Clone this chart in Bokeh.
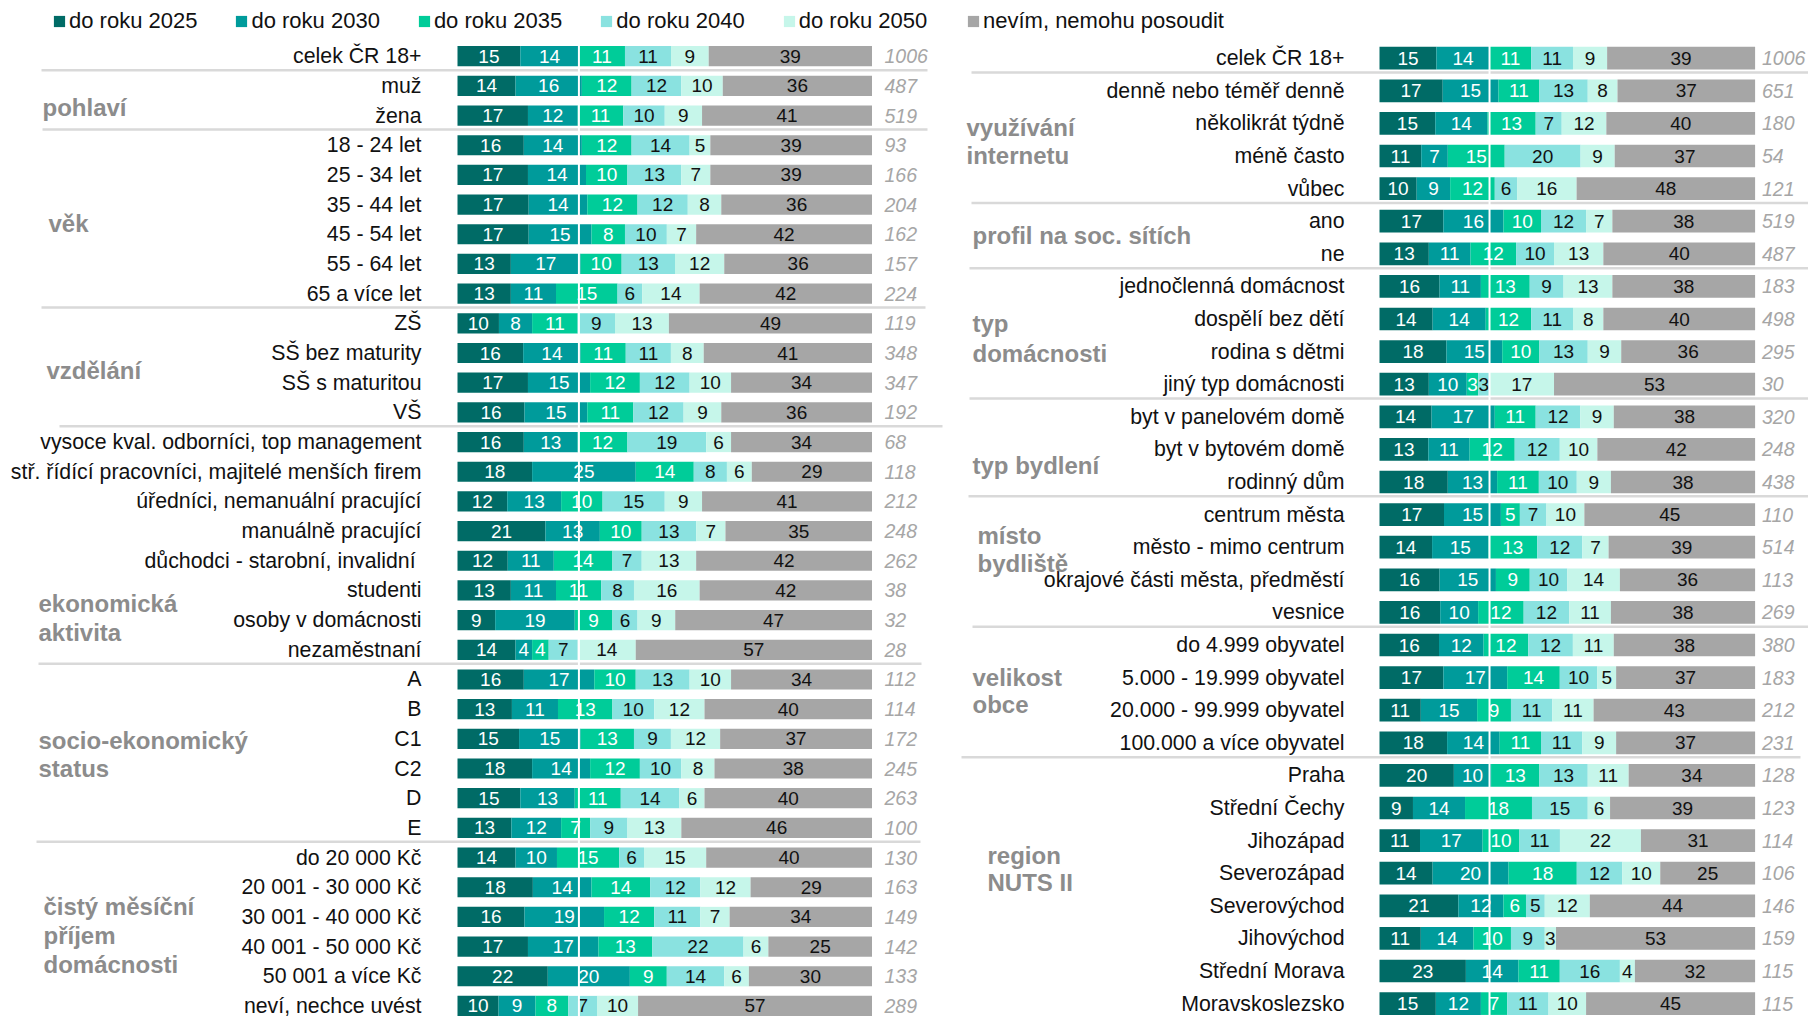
from bokeh.plotting import figure
from bokeh.models import Range1d, ColumnDataSource, Legend, LegendItem, Span
from bokeh.layouts import row
from bokeh.embed import file_html
from bokeh.resources import INLINE
from bokeh.core.properties import value

# ---------------- data ----------------
series = ["do roku 2025", "do roku 2030", "do roku 2035", "do roku 2040",
          "do roku 2050", "nevím, nemohu posoudit"]
colors = ["#006b66", "#009b9b", "#00cc99", "#8ae2e0", "#c6f6ea", "#a6a6a6"]
num_colors = ["#ffffff", "#ffffff", "#ffffff", "#111111", "#111111", "#111111"]

left_labels = ["celek ČR 18+", "muž", "žena",
               "18 - 24 let", "25 - 34 let", "35 - 44 let", "45 - 54 let", "55 - 64 let", "65 a více let",
               "ZŠ", "SŠ bez maturity", "SŠ s maturitou", "VŠ",
               "vysoce kval. odborníci, top management",
               "stř. řídící pracovníci, majitelé menších firem",
               "úředníci, nemanuální pracující", "manuálně pracující",
               "důchodci  - starobní, invalidní", "studenti", "osoby v domácnosti", "nezaměstnaní",
               "A", "B", "C1", "C2", "D", "E",
               "do 20 000 Kč", "20 001 - 30 000 Kč", "30 001 - 40 000 Kč", "40 001 - 50 000 Kč",
               "50 001 a více Kč", "neví, nechce uvést"]
left_2025 = [15, 14, 17, 16, 17, 17, 17, 13, 13, 10, 16, 17, 16, 16, 18, 12, 21, 12, 13, 9, 14,
             16, 13, 15, 18, 15, 13, 14, 18, 16, 17, 22, 10]
left_2030 = [14, 16, 12, 14, 14, 14, 15, 17, 11, 8, 14, 15, 15, 13, 25, 13, 13, 11, 11, 19, 4,
             17, 11, 15, 14, 13, 12, 10, 14, 19, 17, 20, 9]
left_2035 = [11, 12, 11, 12, 10, 12, 8, 10, 15, 11, 11, 12, 11, 12, 14, 10, 10, 14, 11, 9, 4,
             10, 13, 13, 12, 11, 7, 15, 14, 12, 13, 9, 8]
left_2040 = [11, 12, 10, 14, 13, 12, 10, 13, 6, 9, 11, 12, 12, 19, 8, 15, 13, 7, 8, 6, 7,
             13, 10, 9, 10, 14, 9, 6, 12, 11, 22, 14, 7]
left_2050 = [9, 10, 9, 5, 7, 8, 7, 12, 14, 13, 8, 10, 9, 6, 6, 9, 7, 13, 16, 9, 14,
             10, 12, 12, 8, 6, 13, 15, 12, 7, 6, 6, 10]
left_nevim = [39, 36, 41, 39, 39, 36, 42, 36, 42, 49, 41, 34, 36, 34, 29, 41, 35, 42, 42, 47, 57,
              34, 40, 37, 38, 40, 46, 40, 29, 34, 25, 30, 57]
left_n = [1006, 487, 519, 93, 166, 204, 162, 157, 224, 119, 348, 347, 192, 68, 118, 212, 248, 262,
          38, 32, 28, 112, 114, 172, 245, 263, 100, 130, 163, 149, 142, 133, 289]

right_labels = ["celek ČR 18+",
                "denně nebo téměř denně", "několikrát týdně", "méně často", "vůbec",
                "ano", "ne",
                "jednočlenná domácnost", "dospělí bez dětí", "rodina s dětmi", "jiný typ domácnosti",
                "byt v panelovém domě", "byt v bytovém domě", "rodinný dům",
                "centrum města", "město - mimo centrum", "okrajové části města, předměstí", "vesnice",
                "do 4.999 obyvatel", "5.000 - 19.999 obyvatel", "20.000 - 99.999 obyvatel",
                "100.000 a více obyvatel",
                "Praha", "Střední Čechy", "Jihozápad", "Severozápad", "Severovýchod", "Jihovýchod",
                "Střední Morava", "Moravskoslezsko"]
right_2025 = [15, 17, 15, 11, 10, 17, 13, 16, 14, 18, 13, 14, 13, 18, 17, 14, 16, 16, 16, 17, 11, 18,
              20, 9, 11, 14, 21, 11, 23, 15]
right_2030 = [14, 15, 14, 7, 9, 16, 11, 11, 14, 15, 10, 17, 11, 13, 15, 15, 15, 10, 12, 17, 15, 14,
              10, 14, 17, 20, 12, 14, 14, 12]
right_2035 = [11, 11, 13, 15, 12, 10, 12, 13, 12, 10, 3, 11, 12, 11, 5, 13, 9, 12, 12, 14, 9, 11,
              13, 18, 10, 18, 6, 10, 11, 7]
right_2040 = [11, 13, 7, 20, 6, 12, 10, 9, 11, 13, 3, 12, 12, 10, 7, 12, 10, 12, 12, 10, 11, 11,
              13, 15, 11, 12, 5, 9, 16, 11]
right_2050 = [9, 8, 12, 9, 16, 7, 13, 13, 8, 9, 17, 9, 10, 9, 10, 7, 14, 11, 11, 5, 11, 9,
              11, 6, 22, 10, 12, 3, 4, 10]
right_nevim = [39, 37, 40, 37, 48, 38, 40, 38, 40, 36, 53, 38, 42, 38, 45, 39, 36, 38, 38, 37, 43, 37,
               34, 39, 31, 25, 44, 53, 32, 45]
right_n = [1006, 651, 180, 54, 121, 519, 487, 183, 498, 295, 30, 320, 248, 438, 110, 514, 113, 269,
           380, 183, 212, 231, 128, 123, 114, 106, 146, 159, 115, 115]

# group captions (text lines) and the rows after which a divider runs
left_groups = [["pohlaví"], ["věk"], ["vzdělání"], ["ekonomická", "aktivita"],
               ["socio-ekonomický", "status"], ["čistý měsíční", "příjem", "domácnosti"]]
left_dividers = [0, 2, 8, 12, 20, 26]
right_groups = [["využívání", "internetu"], ["profil na soc. sítích"], ["typ", "domácnosti"],
                ["typ bydlení"], ["místo", "bydliště"], ["velikost", "obce"], ["region", "NUTS II"]]
right_dividers = [0, 4, 6, 10, 13, 17, 21]

# ---------------- layout (page pixels) ----------------
FONT = value("Liberation Sans")
H = 1019
L = dict(fig_x0=0, fig_x1=958, bar0=457, pxu=4.145, row0=55.7, rowh=29.68,
         label_x=421, n_x=884, bar_h=0.68,
         group_pos=[[(42, 107)], [(48, 222.5)], [(46, 370)], [(38, 603), (38, 632)],
                    [(38, 740), (38, 768)], [(43, 906), (43, 935), (43, 963.7)]],
         div_off=0.47,
         div_x=[(41, 927), (42, 927), (41, 925), (59, 942), (38, 921), (36, 920)],
         legend_loc=(52, H - 34))
R = dict(fig_x0=958, fig_x1=1808, bar0=1379, pxu=3.756, row0=57.7, rowh=32.6,
         label_x=1344, n_x=1761.5, bar_h=0.695,
         group_pos=[[(966, 126.7), (966, 155)], [(972, 235)], [(972, 323), (972, 352.7)],
                    [(972, 465)], [(977, 535), (977, 563.3)], [(972, 676.7), (972, 704)],
                    [(987, 855), (987, 882.3)]],
         div_off=0.44,
         div_x=[(971, 1808), (971, 1808), (969, 1808), (969, 1808), (968, 1808), (972, 1808),
                (961, 1800)],
         legend_loc=(8, H - 34))


def make_panel(cfg, labels, vals, ns, groups, dividers, legend_idx):
    X = lambda px: (px - cfg["bar0"]) / cfg["pxu"]
    Y = lambda py: (py - cfg["row0"]) / cfg["rowh"]
    w = cfg["fig_x1"] - cfg["fig_x0"]
    p = figure(width=w, height=H, output_backend="svg", toolbar_location=None,
               x_range=Range1d(X(cfg["fig_x0"]), X(cfg["fig_x1"])),
               y_range=Range1d(Y(H), Y(0)),
               x_axis_location=None, y_axis_location=None, min_border=0,
               outline_line_color=None, background_fill_color="white",
               border_fill_color="white")
    p.grid.visible = False

    nrows = len(labels)
    ys = list(range(nrows))
    totals = [sum(v[i] for v in vals) for i in range(nrows)]

    # dividers
    for k, r in enumerate(dividers):
        x0, x1 = cfg["div_x"][k]
        p.segment(x0=[X(x0)], x1=[X(x1)], y0=[r + cfg["div_off"]], y1=[r + cfg["div_off"]],
                  line_color="#d9d9d9", line_width=2.5)

    cum = [0.0] * nrows
    bar_rs = []
    txt_x, txt_y, txt_t, txt_c = [], [], [], []
    for s, v in enumerate(vals):
        left = [cum[i] / totals[i] * 100 for i in range(nrows)]
        right = [(cum[i] + v[i]) / totals[i] * 100 for i in range(nrows)]
        src = ColumnDataSource(dict(y=ys, left=left, right=right))
        r = p.hbar(y="y", left="left", right="right", height=cfg["bar_h"], source=src,
                   fill_color=colors[s], line_color=None)
        bar_rs.append(r)
        for i in range(nrows):
            txt_x.append((left[i] + right[i]) / 2)
            txt_y.append(i)
            txt_t.append(str(v[i]))
            txt_c.append(num_colors[s])
        cum = [cum[i] + v[i] for i in range(nrows)]

    # reference line: overall share of "do roku 2025" + "do roku 2030"
    ref = (vals[0][0] + vals[1][0]) / totals[0] * 100
    p.add_layout(Span(location=ref, dimension="height", line_color="white", line_width=2))

    p.text(x=txt_x, y=txt_y, text=txt_t, text_color=txt_c, text_font=FONT,
           text_font_size="19px", text_align="center", text_baseline="middle")

    # row labels
    p.text(x=[X(cfg["label_x"])] * nrows, y=ys, text=labels, text_color="#111111",
           text_font=FONT, text_font_size="21.3px", text_align="right", text_baseline="middle")
    # sample sizes
    p.text(x=[X(cfg["n_x"])] * nrows, y=ys, text=[str(n) for n in ns], text_color="#a6a6a6",
           text_font=FONT, text_font_style="italic", text_font_size="19.5px",
           text_align="left", text_baseline="middle")
    # group captions
    gx, gy, gt = [], [], []
    for g, lines in enumerate(groups):
        for j, line in enumerate(lines):
            px, py = cfg["group_pos"][g][j]
            gx.append(X(px)); gy.append(Y(py)); gt.append(line)
    p.text(x=gx, y=gy, text=gt, text_color="#8c8c8c", text_font=FONT,
           text_font_style="bold", text_font_size="24px", text_align="left",
           text_baseline="middle")

    items = [LegendItem(label=series[k], renderers=[bar_rs[k]]) for k in legend_idx]
    leg = Legend(items=items, orientation="horizontal", location=cfg["legend_loc"],
                 glyph_width=14, glyph_height=14, label_standoff=3, spacing=37,
                 padding=0, margin=0, border_line_color=None, background_fill_alpha=0,
                 label_text_font="Liberation Sans", label_text_font_size="22px",
                 label_text_color="#111111")
    p.add_layout(leg)
    return p


left_vals = [left_2025, left_2030, left_2035, left_2040, left_2050, left_nevim]
right_vals = [right_2025, right_2030, right_2035, right_2040, right_2050, right_nevim]

p_left = make_panel(L, left_labels, left_vals, left_n, left_groups, left_dividers, [0, 1, 2, 3, 4])
p_right = make_panel(R, right_labels, right_vals, right_n, right_groups, right_dividers, [5])

p = row(p_left, p_right, spacing=0)
open("out.html", "w").write(file_html(p, INLINE))
